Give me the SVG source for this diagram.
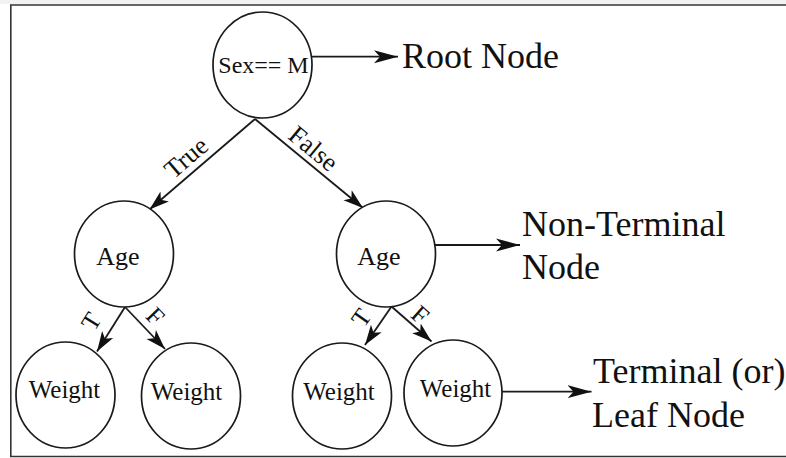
<svg xmlns="http://www.w3.org/2000/svg" width="786" height="458" viewBox="0 0 786 458">
  <style>
    .node { fill: #ffffff; stroke: #1a1a1a; stroke-width: 1.7; }
    .lbl { font-family: "Liberation Serif", "Times New Roman", serif; fill: #111111; text-anchor: middle; }
    .note { font-family: "Liberation Serif", "Times New Roman", serif; fill: #111111; font-size: 36px; }
    .edge { fill: none; stroke: #1a1a1a; stroke-width: 1.8; }
    .elbl { font-family: "Liberation Serif", "Times New Roman", serif; fill: #111111; text-anchor: middle; }
  </style>
  <defs>
    <marker id="head" markerUnits="userSpaceOnUse" markerWidth="26" markerHeight="16" refX="24" refY="8" orient="auto">
      <path d="M0,1.5 L24,8 L0,14.5 L6,8 Z" fill="#111111"/>
    </marker>
    <marker id="headSm" markerUnits="userSpaceOnUse" markerWidth="22" markerHeight="16" refX="20" refY="8" orient="auto">
      <path d="M0,1.5 L20,8 L0,14.5 L5,8 Z" fill="#111111"/>
    </marker>
  </defs>

  <!-- page background and frame -->
  <rect x="0" y="0" width="786" height="458" fill="#ffffff"/>
  <rect x="0" y="0" width="786" height="4" fill="#f2f2f2"/>
  <path d="M786,5 L10.8,5 L10.8,456.5 L786,456.5" fill="none" stroke="#333333" stroke-width="1.6"/>

  <!-- connectors -->
  <g id="connectors">
    <line class="edge" x1="255" y1="119" x2="149.5" y2="209.5" marker-end="url(#headSm)"/>
    <line class="edge" x1="255" y1="119" x2="363" y2="208" marker-end="url(#headSm)"/>
    <line class="edge" x1="125" y1="307" x2="97" y2="351.5" marker-end="url(#headSm)"/>
    <line class="edge" x1="125" y1="307" x2="165" y2="349" marker-end="url(#headSm)"/>
    <line class="edge" x1="391.5" y1="306.5" x2="365" y2="345" marker-end="url(#headSm)"/>
    <line class="edge" x1="391.5" y1="306.5" x2="431.5" y2="341.5" marker-end="url(#headSm)"/>
    <line class="edge" x1="312" y1="56.7" x2="398" y2="56.7" marker-end="url(#head)"/>
    <line class="edge" x1="435" y1="245" x2="520" y2="245" marker-end="url(#head)"/>
    <line class="edge" x1="501.7" y1="391.7" x2="591.5" y2="391.7" marker-end="url(#head)"/>

    <text class="elbl" font-size="26" transform="translate(186.5,158) rotate(-40.6)" y="8">True</text>
    <text class="elbl" font-size="26" transform="translate(313,149) rotate(39.5)" y="8">False</text>
    <text class="elbl" font-size="25" transform="translate(91.5,321.5) rotate(-58)" y="8">T</text>
    <text class="elbl" font-size="25" transform="translate(155,316.5) rotate(46)" y="8">F</text>
    <text class="elbl" font-size="25" transform="translate(361.5,318) rotate(-55)" y="8">T</text>
    <text class="elbl" font-size="25" transform="translate(420,315) rotate(41)" y="8">F</text>
  </g>

  <!-- root node -->
  <g id="root">
    <ellipse class="node" cx="262.5" cy="65" rx="49.5" ry="53"/>
    <text class="lbl" x="263.5" y="72.5" font-size="24">Sex== M</text>
  </g>

  <!-- decision nodes -->
  <g id="age-left">
    <ellipse class="node" cx="124" cy="254" rx="49.5" ry="53"/>
    <text class="lbl" x="118" y="265" font-size="26">Age</text>
  </g>
  <g id="age-right">
    <ellipse class="node" cx="386" cy="254" rx="49.5" ry="53"/>
    <text class="lbl" x="379" y="265" font-size="26">Age</text>
  </g>

  <!-- leaf nodes -->
  <g id="weight-1">
    <ellipse class="node" cx="65.5" cy="395" rx="49.5" ry="53"/>
    <text class="lbl" x="64.5" y="398" font-size="25">Weight</text>
  </g>
  <g id="weight-2">
    <ellipse class="node" cx="191" cy="396" rx="49.5" ry="53"/>
    <text class="lbl" x="186.5" y="400" font-size="25">Weight</text>
  </g>
  <g id="weight-3">
    <ellipse class="node" cx="342" cy="396" rx="49.5" ry="53"/>
    <text class="lbl" x="339" y="400" font-size="25">Weight</text>
  </g>
  <g id="weight-4">
    <ellipse class="node" cx="453" cy="393" rx="49" ry="53"/>
    <text class="lbl" x="455.5" y="396.5" font-size="25">Weight</text>
  </g>

  <!-- annotations -->
  <g id="note-root">
    <text class="note" x="402" y="68">Root Node</text>
  </g>
  <g id="note-nonterminal">
    <text class="note" x="522" y="236">Non-Terminal</text>
    <text class="note" x="522" y="279">Node</text>
  </g>
  <g id="note-terminal">
    <text class="note" x="593" y="383">Terminal (or)</text>
    <text class="note" x="592" y="427">Leaf Node</text>
  </g>
</svg>
